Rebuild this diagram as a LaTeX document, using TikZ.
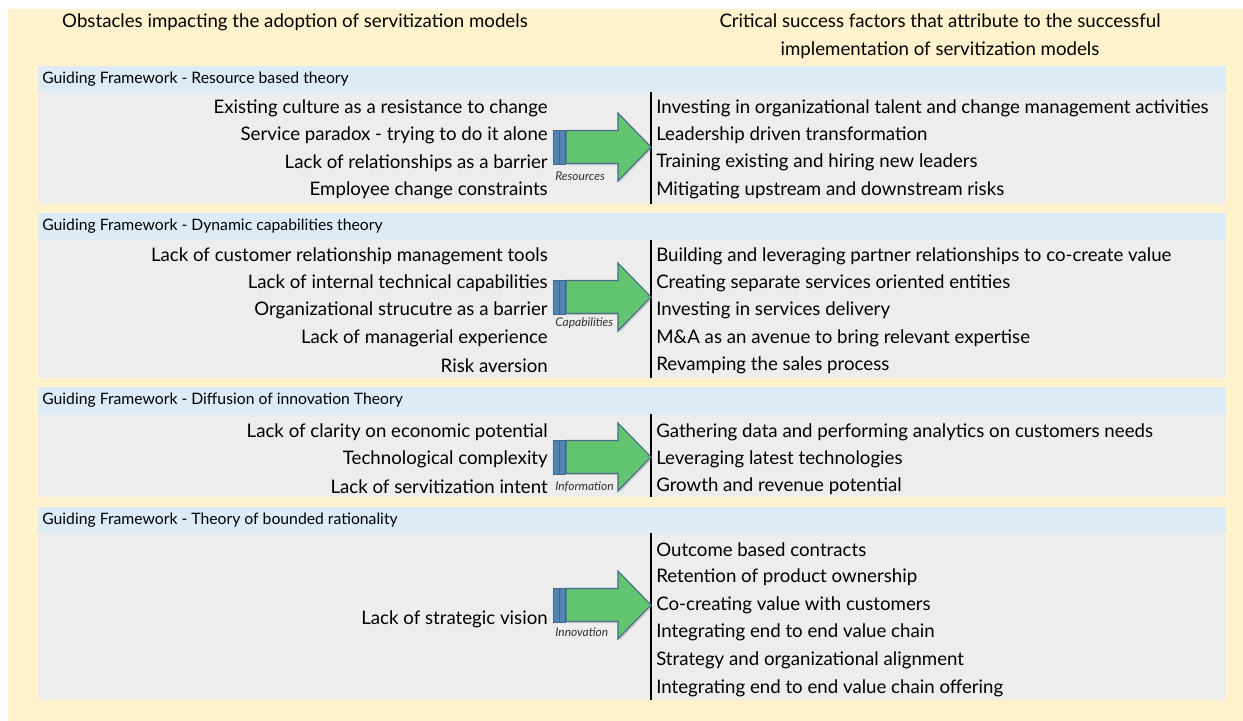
\documentclass[tikz,border=0pt]{standalone}
\usepackage{fontspec}
\setmainfont{Lato}
\usetikzlibrary{shadows}

\definecolor{paper}{RGB}{255,242,204}
\definecolor{bandblue}{RGB}{221,235,247}
\definecolor{panelgray}{RGB}{237,237,237}
\definecolor{arrowgreen}{RGB}{98,196,112}
\definecolor{arrowedge}{RGB}{68,104,140}
\definecolor{stubblue}{RGB}{84,132,178}

\begin{document}
\begin{tikzpicture}[x=0.75pt, y=-0.75pt,
    head/.style={font=\fontsize{14}{21}\selectfont, align=center, inner sep=0pt},
    frame/.style={font=\fontsize{11.8}{13}\selectfont, anchor=west, inner sep=0pt},
    obstacle/.style={font=\fontsize{14}{16}\selectfont, anchor=east, inner sep=0pt},
    factor/.style={font=\fontsize{14}{16}\selectfont, anchor=west, inner sep=0pt},
    tag/.style={font=\fontsize{9}{10}\selectfont\itshape, text=black!80, anchor=west, inner sep=0pt},
    divider/.style={draw=black, line width=0.8pt},
    bigarrow/.style={fill=arrowgreen, draw=arrowedge, line width=0.8pt, line join=miter},
    stub/.style={fill=stubblue, draw=arrowedge, line width=0.6pt}]

  \useasboundingbox (0,0) rectangle (1243,721);
  \fill[paper] (8,9) rectangle (1243,721);

  \node[head] (hl) at (295,22) {Obstacles impacting the adoption of servitization models};
  \node[head] (hr) at (940,36) {Critical success factors that attribute to the successful\\implementation of servitization models};

  % one band and one panel per framework
  \foreach \btop/\ptop/\pbot/\theory [count=\s] in {66/92/204/Resource based theory,
      213/240/378/Dynamic capabilities theory,
      387/414/497/Diffusion of innovation Theory,
      507/533/700/Theory of bounded rationality} {
    \fill[bandblue] (38,\btop) rectangle (1226,\ptop);
    \fill[panelgray] (38,\ptop) rectangle (1226,\pbot);
    \node[frame] (gf\s) at (42,{(\btop+\ptop)/2}) {Guiding Framework - \theory};
    \draw[divider] (651,\ptop) -- (651,\pbot);
  }

  % resource based theory
  \foreach \t [count=\i] in {Existing culture as a resistance to change,
      Service paradox - trying to do it alone,
      Lack of relationships as a barrier,
      Employee change constraints}
    \node[obstacle] (rb-o\i) at (548,{108+27.4*(\i-1)}) {\t};
  \foreach \t [count=\i] in {Investing in organizational talent and change management activities,
      Leadership driven transformation,
      Training existing and hiring new leaders,
      Mitigating upstream and downstream risks}
    \node[factor] (rb-f\i) at (656,{108+27.4*(\i-1)}) {\t};

  % dynamic capabilities theory
  \foreach \t [count=\i] in {Lack of customer relationship management tools,
      Lack of internal technical capabilities,
      Organizational strucutre as a barrier,
      Lack of managerial experience,
      Risk aversion}
    \node[obstacle] (dc-o\i) at (548,{256+27.3*(\i-1)}) {\t};
  \foreach \t [count=\i] in {Building and leveraging partner relationships to co-create value,
      Creating separate services oriented entities,
      Investing in services delivery,
      M\&A as an avenue to bring relevant expertise,
      Revamping the sales process}
    \node[factor] (dc-f\i) at (656,{256+27.3*(\i-1)}) {\t};

  % diffusion of innovation
  \foreach \t [count=\i] in {Lack of clarity on economic potential,
      Technological complexity,
      Lack of servitization intent}
    \node[obstacle] (di-o\i) at (548,{432+27.2*(\i-1)}) {\t};
  \foreach \t [count=\i] in {Gathering data and performing analytics on customers needs,
      Leveraging latest technologies,
      Growth and revenue potential}
    \node[factor] (di-f\i) at (656,{432+27.2*(\i-1)}) {\t};

  % bounded rationality
  \node[obstacle] (br-o1) at (548,619) {Lack of strategic vision};
  \foreach \t [count=\i] in {Outcome based contracts,
      Retention of product ownership,
      Co-creating value with customers,
      Integrating end to end value chain,
      Strategy and organizational alignment,
      Integrating end to end value chain offering}
    \node[factor] (br-f\i) at (656,{550+27.6*(\i-1)}) {\t};

  % block arrows between the columns
  \foreach \yc/\tagy/\word in {147/176/Resources, 297/323/Capabilities,
      457/487/Information, 605/632/Innovation} {
    \draw[stub] (553,{\yc-17}) rectangle (559,{\yc+17});
    \draw[stub] (559,{\yc-17}) rectangle (565,{\yc+17});
    \draw[bigarrow, drop shadow={opacity=0.25, shadow xshift=1.2pt, shadow yshift=-1.2pt}]
      (566,{\yc-16.5}) -- (618,{\yc-16.5}) -- (618,{\yc-34}) -- (651,\yc)
      -- (618,{\yc+34}) -- (618,{\yc+16.5}) -- (566,{\yc+16.5}) -- cycle;
    \node[tag] (tag-\word) at (555,\tagy) {\word};
  }
\end{tikzpicture}
\end{document}
